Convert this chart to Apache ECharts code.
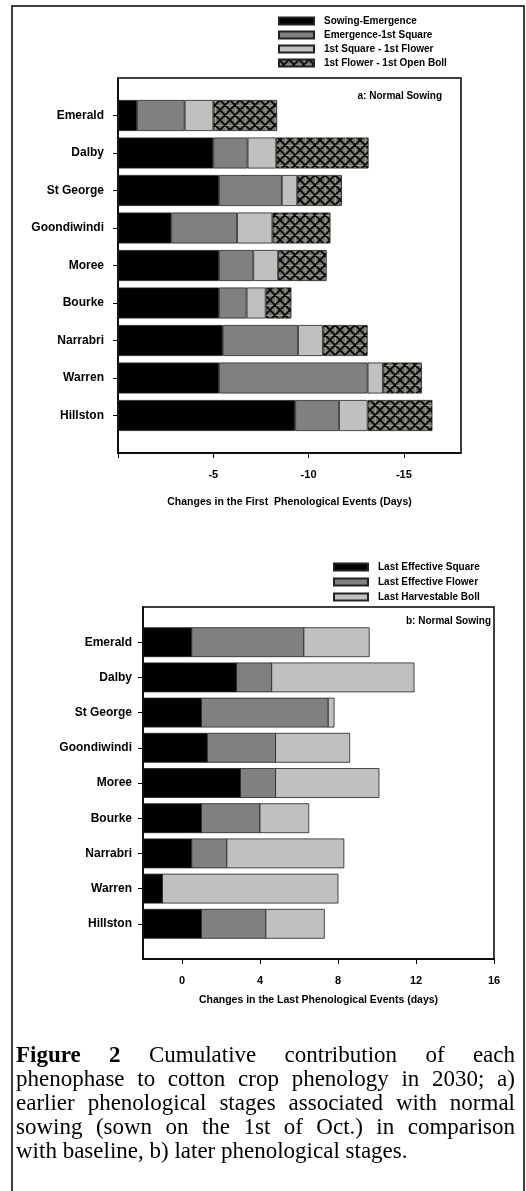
<!DOCTYPE html>
<html>
<head>
<meta charset="utf-8">
<script src="https://cdn.jsdelivr.net/npm/echarts@6/dist/echarts.min.js"></script>
<style>
  body { margin: 0; background: #fff; }
  #chart { position: absolute; left: 0; top: 0; width: 526px; height: 1191px; }
  #caption { position: absolute; left: 16px; top: 1043px; width: 499px;
    font-family: "Liberation Serif", "Times New Roman", serif; font-size: 23px; line-height: 24px; color: #000; }
  #caption div { text-align: justify; text-align-last: justify; white-space: nowrap; }
  #caption div.last { text-align-last: left; }
</style>
</head>
<body>
<div id="chart"></div>
<div id="caption">
  <div><b>Figure 2</b> Cumulative contribution of each</div>
  <div>phenophase to cotton crop phenology in 2030; a)</div>
  <div>earlier phenological stages associated with normal</div>
  <div>sowing (sown on the 1st of Oct.) in comparison</div>
  <div class="last">with baseline, b) later phenological stages.</div>
</div>
<script>
// sites, top to bottom
const sites = ['Emerald', 'Dalby', 'St George', 'Goondiwindi', 'Moree', 'Bourke', 'Narrabri', 'Warren', 'Hillston'];

// a) first phenological events: length of each phase (days, negative = earlier)
const firstNames = ['Sowing-Emergence', 'Emergence-1st Square', '1st Square - 1st Flower', '1st Flower - 1st Open Boll'];
const sowEmerg     = [-1.0, -5.0, -5.3, -2.8, -5.3, -5.3, -5.5, -5.3, -9.3];
const emergSquare  = [-2.5, -1.8, -3.3, -3.45, -1.8, -1.45, -3.95, -7.8, -2.3];
const squareFlower = [-1.5, -1.5, -0.8, -1.85, -1.3, -1.0, -1.3, -0.8, -1.5];
const flowerBoll   = [-3.35, -4.85, -2.35, -3.05, -2.55, -1.35, -2.35, -2.05, -3.4];
const firstTicks = [0, -5, -10, -15];

// b) last phenological events: cumulative end of each stage (days)
const lastNames = ['Last Effective Square', 'Last Effective Flower', 'Last Harvestable Boll'];
const lastSquare = [0.5, 2.8, 1.0, 1.3, 3.0, 1.0, 0.5, -1.0, 1.0];
const lastFlower = [6.25, 4.6, 7.5, 4.8, 4.8, 4.0, 2.3, -1.0, 4.3];
const lastBoll   = [9.6, 11.9, 7.8, 8.6, 10.1, 6.5, 8.3, 8.0, 7.3];
const lastTicks = [0, 4, 8, 12, 16];

// crosshatch fill
function hatch() {
  const c = document.createElement('canvas');
  c.width = 10; c.height = 10;
  const g = c.getContext('2d');
  g.fillStyle = '#74746c';
  g.fillRect(0, 0, 10, 10);
  g.strokeStyle = '#9a9a92';
  g.lineWidth = 1;
  g.beginPath();
  g.moveTo(0, 5.5); g.lineTo(10, 5.5);
  g.moveTo(5.5, 0); g.lineTo(5.5, 10);
  g.stroke();
  g.strokeStyle = '#000';
  g.lineWidth = 1.6;
  g.beginPath();
  for (let o = -10; o <= 10; o += 10) {
    g.moveTo(o, 0); g.lineTo(o + 10, 10);
    g.moveTo(o + 10, 0); g.lineTo(o, 10);
  }
  g.stroke();
  return c;
}

const cats = [''].concat(sites, [' ']);
const pad = arr => [null].concat(arr, [null]);
const fills1 = ['#000000', '#808080', '#c0c0c0', { image: hatch(), repeat: 'repeat' }];
const fills2 = ['#000000', '#808080', '#c0c0c0'];
const xMin2 = -2;

const lbl = { fontFamily: 'Liberation Sans, Arial, sans-serif', fontWeight: 'bold', color: '#000' };

const chart = echarts.init(document.getElementById('chart'));

const firstSeries = [sowEmerg, emergSquare, squareFlower, flowerBoll].map((d, k) => ({
  name: firstNames[k],
  type: 'bar',
  stack: 'first',
  xAxisIndex: 0, yAxisIndex: 0,
  barWidth: 31,
  data: pad(d),
  itemStyle: { color: fills1[k], borderColor: '#222', borderWidth: 0.8 },
  animation: false
}));

const ends = [lastSquare, lastFlower, lastBoll];
const lastSeries = ends.map((d, k) => ({
  name: lastNames[k],
  type: 'custom',
  xAxisIndex: 1, yAxisIndex: 1,
  itemStyle: { color: fills2[k], borderColor: '#222', borderWidth: 0.8 },
  encode: { x: [1, 2], y: 0 },
  data: d.map((v, i) => [i + 1, k === 0 ? xMin2 : ends[k - 1][i], v]),
  renderItem: (params, api) => {
    const s = api.coord([api.value(1), api.value(0)]);
    const e = api.coord([api.value(2), api.value(0)]);
    const h = 29;
    return {
      type: 'rect',
      shape: { x: s[0], y: s[1] - h / 2, width: e[0] - s[0], height: h },
      style: { fill: fills2[k], stroke: '#222', lineWidth: 0.8 }
    };
  },
  animation: false
}));

chart.setOption({
  animation: false,
  grid: [
    { left: 118, top: 78, width: 343, height: 375, show: true, borderColor: '#000', borderWidth: 1.5, backgroundColor: 'transparent' },
    { left: 143, top: 607, width: 351, height: 352, show: true, borderColor: '#000', borderWidth: 1.5, backgroundColor: 'transparent' }
  ],
  legend: [
    {
      data: firstNames, orient: 'vertical', left: 278, top: 16, padding: 0,
      itemWidth: 35, itemHeight: 7, itemGap: 4, icon: 'rect',
      textStyle: Object.assign({ fontSize: 10, padding: [0, 0, 0, 5] }, lbl)
    },
    {
      data: lastNames, orient: 'vertical', left: 333, top: 562, padding: 0,
      itemWidth: 34, itemHeight: 7, itemGap: 5, icon: 'rect',
      textStyle: Object.assign({ fontSize: 10, padding: [0, 0, 0, 5] }, lbl)
    }
  ],
  xAxis: [
    {
      gridIndex: 0, type: 'value', inverse: true, min: -18, max: 0,
      splitLine: { show: false },
      axisLine: { show: true, lineStyle: { color: '#000', width: 1.5 } },
      axisTick: { show: true, length: 5, customValues: firstTicks, lineStyle: { color: '#000' } },
      axisLabel: Object.assign({ fontSize: 11, margin: 16, customValues: firstTicks.slice(1) }, lbl),
      name: 'Changes in the First  Phenological Events (Days)',
      nameLocation: 'middle', nameGap: 44,
      nameTextStyle: Object.assign({ fontSize: 10.5 }, lbl)
    },
    {
      gridIndex: 1, type: 'value', min: xMin2, max: 16,
      splitLine: { show: false },
      axisLine: { show: true, lineStyle: { color: '#000', width: 1.5 } },
      axisTick: { show: true, length: 5, customValues: lastTicks, lineStyle: { color: '#000' } },
      axisLabel: Object.assign({ fontSize: 11, margin: 16, customValues: lastTicks }, lbl),
      name: 'Changes in the Last Phenological Events (days)',
      nameLocation: 'middle', nameGap: 36,
      nameTextStyle: Object.assign({ fontSize: 10.5 }, lbl)
    }
  ],
  yAxis: [0, 1].map(g => ({
    gridIndex: g, type: 'category', inverse: true, boundaryGap: false, data: cats,
    axisLine: { show: true, onZero: false, lineStyle: { color: '#000', width: 1.5 } },
    axisTick: { show: true, length: 5, interval: (i, v) => v.trim() !== '', lineStyle: { color: '#000' } },
    axisLabel: Object.assign({ fontSize: 12, margin: g === 0 ? 14 : 11 }, lbl)
  })),
  graphic: [
    { type: 'rect', shape: { x: 12, y: 6, width: 512, height: 1200 }, style: { fill: null, stroke: '#000', lineWidth: 1.5 } },
    { type: 'text', right: 84, top: 91, style: { text: 'a: Normal Sowing', fill: '#000', font: 'bold 10px Liberation Sans, Arial, sans-serif' } },
    { type: 'text', right: 35, top: 616, style: { text: 'b: Normal Sowing', fill: '#000', font: 'bold 10px Liberation Sans, Arial, sans-serif' } }
  ],
  series: firstSeries.concat(lastSeries)
});
</script>
</body>
</html>
